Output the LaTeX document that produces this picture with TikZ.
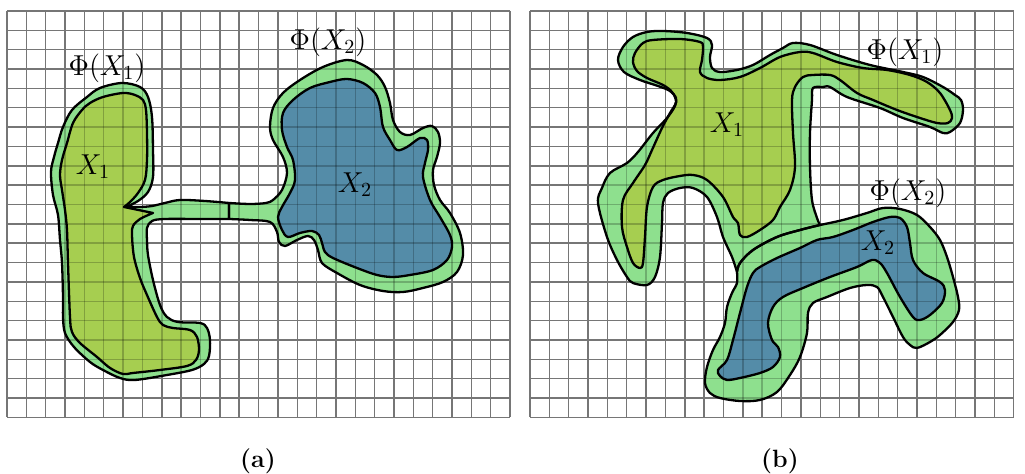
\documentclass[tikz,border=0pt]{standalone}
\usepackage{tikz}
\definecolor{phig}{RGB}{142,224,142}
\definecolor{xonec}{RGB}{166,206,80}
\definecolor{xtwoc}{RGB}{84,140,168}
\definecolor{gridc}{RGB}{118,118,118}
\tikzset{
  gridline/.style={draw=gridc, line width=0.72pt},
  gridover/.style={draw=black, line width=0.72pt, opacity=0.22},
  phiregion/.style={fill=phig},
  xoneregion/.style={fill=xonec},
  xtworegion/.style={fill=xtwoc},
  outline/.style={draw=black, line width=1.15pt, line join=round},
  lab/.style={inner sep=0pt, font=\fontsize{14}{16}\selectfont},
  sublab/.style={inner sep=0pt, font=\fontsize{12.5}{14}\selectfont\bfseries}
}
\begin{document}
\begin{tikzpicture}[x=0.5pt, y=-0.5pt]
\useasboundingbox (0,0) rectangle (1025,474);

% ---------- grids
\newcommand{\gridA}[1]{%
  \foreach \i in {0,...,26} \draw[#1] ({7+\i*19.35},11) -- ({7+\i*19.35},417.35);
  \foreach \j in {0,...,21} \draw[#1] (7,{11+\j*19.35}) -- (510.1,{11+\j*19.35});}
\newcommand{\gridB}[1]{%
  \foreach \i in {0,...,25} \draw[#1] ({530+\i*19.35},11) -- ({530+\i*19.35},417.35);
  \foreach \j in {0,...,21} \draw[#1] (530,{11+\j*19.35}) -- (1013.75,{11+\j*19.35});}
\gridA{gridline}
\gridB{gridline}

% ---------- panel (a) shapes
\def\phiAone{plot[smooth, tension=0.55] coordinates {(126,207) (140,207) (152,206) (165,203) (180,200) (205,201) (229,203)}
  -- plot[smooth, tension=0.55] coordinates {(229,219) (200,219) (165,219) (152,221) (147,228) (147,240) (148,255) (153,280) (160,305) (167,317) (178,322) (200,323) (207,328) (210,340) (209,356) (204,364) (192,370) (167,375) (135,380) (120,378) (103,370) (90,362) (74,347) (65,333) (63,317) (63,297) (62,263) (60,240) (58,215) (53,195) (51,172) (54,157) (58,143) (63,127) (72,110) (87,97) (100,88) (122,83) (140,87) (148,97) (152,117) (153,150) (153,177) (148,192) (138,201) (126,207)} -- cycle}
\def\phiAtwo{plot[smooth, tension=0.55] coordinates {(229,203) (250,204) (266,203) (273,200) (282,190) (287,173) (283,157) (273,140) (270,127) (273,108) (283,93) (300,80) (323,67) (347,60) (363,65) (377,75) (385,87) (390,103) (393,120) (400,132) (410,135) (423,128) (432,126) (438,132) (440,143) (437,157) (433,170) (434,185) (440,200) (450,213) (460,233) (463,255) (457,272) (443,282) (423,288) (403,292) (383,291) (360,285) (337,273) (322,263) (318,250) (314,240) (308,236) (297,240) (285,246) (279,242) (277,232) (270,222) (250,220) (229,219)} -- cycle}
\def\xAone{plot[smooth, tension=0.55] coordinates {(124,207) (153,213)}
  -- plot[smooth, tension=0.55] coordinates {(153,213) (140,219) (133,226) (132,235) (134,257) (140,278) (147,295) (157,317) (163,325) (173,328) (190,330) (197,337) (199,350) (196,360) (187,366) (160,370) (133,373) (123,374) (110,368) (97,357) (80,343) (72,332) (70,317) (68,263) (67,230) (65,210) (62,190) (60,175) (62,160) (67,143) (73,123) (82,110) (90,103) (103,97) (123,93) (135,95) (143,100) (146,110) (147,133) (147,160) (145,180) (138,193) (130,202) (124,207)} -- cycle}
\def\xAtwo{plot[smooth cycle, tension=0.55] coordinates {(347,79) (363,83) (375,93) (380,107) (383,127) (390,140) (397,150) (407,147) (420,138) (427,140) (428,150) (425,163) (423,177) (430,200) (440,217) (450,235) (452,247) (447,260) (433,270) (410,275) (393,277) (377,275) (357,268) (333,258) (325,252) (322,243) (319,235) (312,231) (300,233) (288,237) (282,230) (278,217) (282,207) (290,193) (295,180) (293,160) (287,147) (282,130) (283,113) (293,100) (310,88) (330,82)}}

% ---------- panel (b) shapes
\def\phiBone{plot[smooth, tension=0.55] coordinates {(737,272) (732,257) (723,237) (717,217) (707,197) (693,188) (680,188) (668,193) (663,203) (662,223) (660,257) (655,277) (647,285) (633,283) (627,277) (617,260) (607,237) (598,203) (602,188) (610,173) (627,163) (638,152) (653,133) (667,118) (675,106) (676,98) (670,91) (658,86) (640,80) (624,72) (618,60) (623,47) (633,37) (647,32) (663,31) (687,33) (707,38) (712,45) (710,57) (712,68) (720,72) (737,70) (753,65) (770,55) (783,48) (793,43) (810,45) (837,55) (870,65) (903,72) (923,77) (943,87) (955,95) (961,100) (963,110) (960,123) (950,132) (943,133) (930,127) (903,118) (880,108) (847,97) (830,87) (823,87) (813,88) (812,100) (810,133) (810,167) (812,200) (817,218) (820,225)}
  -- plot[smooth, tension=0.55] coordinates {(820,225) (800,230) (777,237) (753,250) (740,263) (737,272)} -- cycle}
\def\phiBtwo{plot[smooth, tension=0.55] coordinates {(820,225) (843,220) (867,213) (883,208) (900,209) (917,215) (930,227) (940,240) (947,257) (953,277) (958,297) (959,310) (953,322) (940,335) (930,342) (917,348) (910,345) (903,337) (893,317) (883,297) (877,287) (867,285) (850,288) (827,297) (813,303) (808,313) (807,333) (800,357) (790,375) (777,392) (760,400) (740,401) (720,398) (710,393) (705,383) (707,367) (713,350) (720,337) (725,323) (727,307) (732,293) (737,283) (737,272)}
  -- plot[smooth, tension=0.55] coordinates {(737,272) (740,263) (753,250) (777,237) (800,230) (820,225)} -- cycle}
\def\xBone{plot[smooth cycle, tension=0.55] coordinates {(653,40) (680,39) (700,42) (703,47) (702,60) (700,72) (707,78) (720,80) (740,77) (760,68) (780,57) (800,52) (813,53) (837,62) (863,68) (887,70) (910,75) (927,82) (940,93) (950,110) (952,118) (948,123) (937,123) (920,118) (897,110) (873,100) (857,93) (840,80) (830,75) (813,75) (803,77) (795,87) (792,100) (793,133) (795,167) (790,190) (780,207) (773,220) (760,230) (747,237) (740,235) (738,223) (733,217) (723,197) (707,180) (693,175) (680,176) (663,180) (653,187) (647,207) (645,237) (643,263) (640,268) (633,263) (627,247) (622,227) (623,200) (633,183) (645,165) (652,150) (662,128) (670,113) (676,102) (672,92) (663,85) (647,78) (637,71) (633,62) (635,53) (643,43)}}
\def\xBtwo{plot[smooth cycle, tension=0.55] coordinates {(760,267) (777,258) (800,248) (817,240) (833,237) (853,230) (873,222) (890,217) (900,218) (907,227) (910,243) (913,260) (923,273) (940,282) (945,290) (942,303) (930,315) (920,320) (913,317) (900,297) (887,273) (880,263) (872,260) (857,267) (830,277) (803,288) (783,297) (773,307) (768,323) (772,340) (778,347) (780,357) (773,367) (760,373) (740,378) (727,380) (720,376) (718,370) (727,360) (733,340) (740,313) (747,287) (753,273)}}

% fills
\fill[phiregion] \phiAone;
\fill[phiregion] \phiAtwo;
\fill[xoneregion] \xAone;
\fill[xtworegion] \xAtwo;
\fill[phiregion] \phiBone;
\fill[phiregion] \phiBtwo;
\fill[xoneregion] \xBone;
\fill[xtworegion] \xBtwo;

% grid seen through the regions
\begin{scope}
\clip \phiAone \phiAtwo \phiBone \phiBtwo;
\gridA{gridover}
\gridB{gridover}
\end{scope}

% outlines
\draw[outline] \phiAone;
\draw[outline] \phiAtwo;
\draw[outline] \xAone;
\draw[outline] \xAtwo;
\draw[outline] \phiBone;
\draw[outline] \phiBtwo;
\draw[outline] \xBone;
\draw[outline] \xBtwo;

% labels
\node[lab] (phiA1) at (107,68) {$\Phi(X_1)$};
\node[lab] (xA1) at (93,167) {$X_1$};
\node[lab] (phiA2) at (328,42) {$\Phi(X_2)$};
\node[lab] (xA2) at (355,185) {$X_2$};
\node[lab] (phiB1) at (905,52) {$\Phi(X_1)$};
\node[lab] (xB1) at (727,125) {$X_1$};
\node[lab] (phiB2) at (908,193) {$\Phi(X_2)$};
\node[lab] (xB2) at (878,243) {$X_2$};
\node[sublab] (capa) at (258,461) {(a)};
\node[sublab] (capb) at (780,461) {(b)};
\end{tikzpicture}
\end{document}
